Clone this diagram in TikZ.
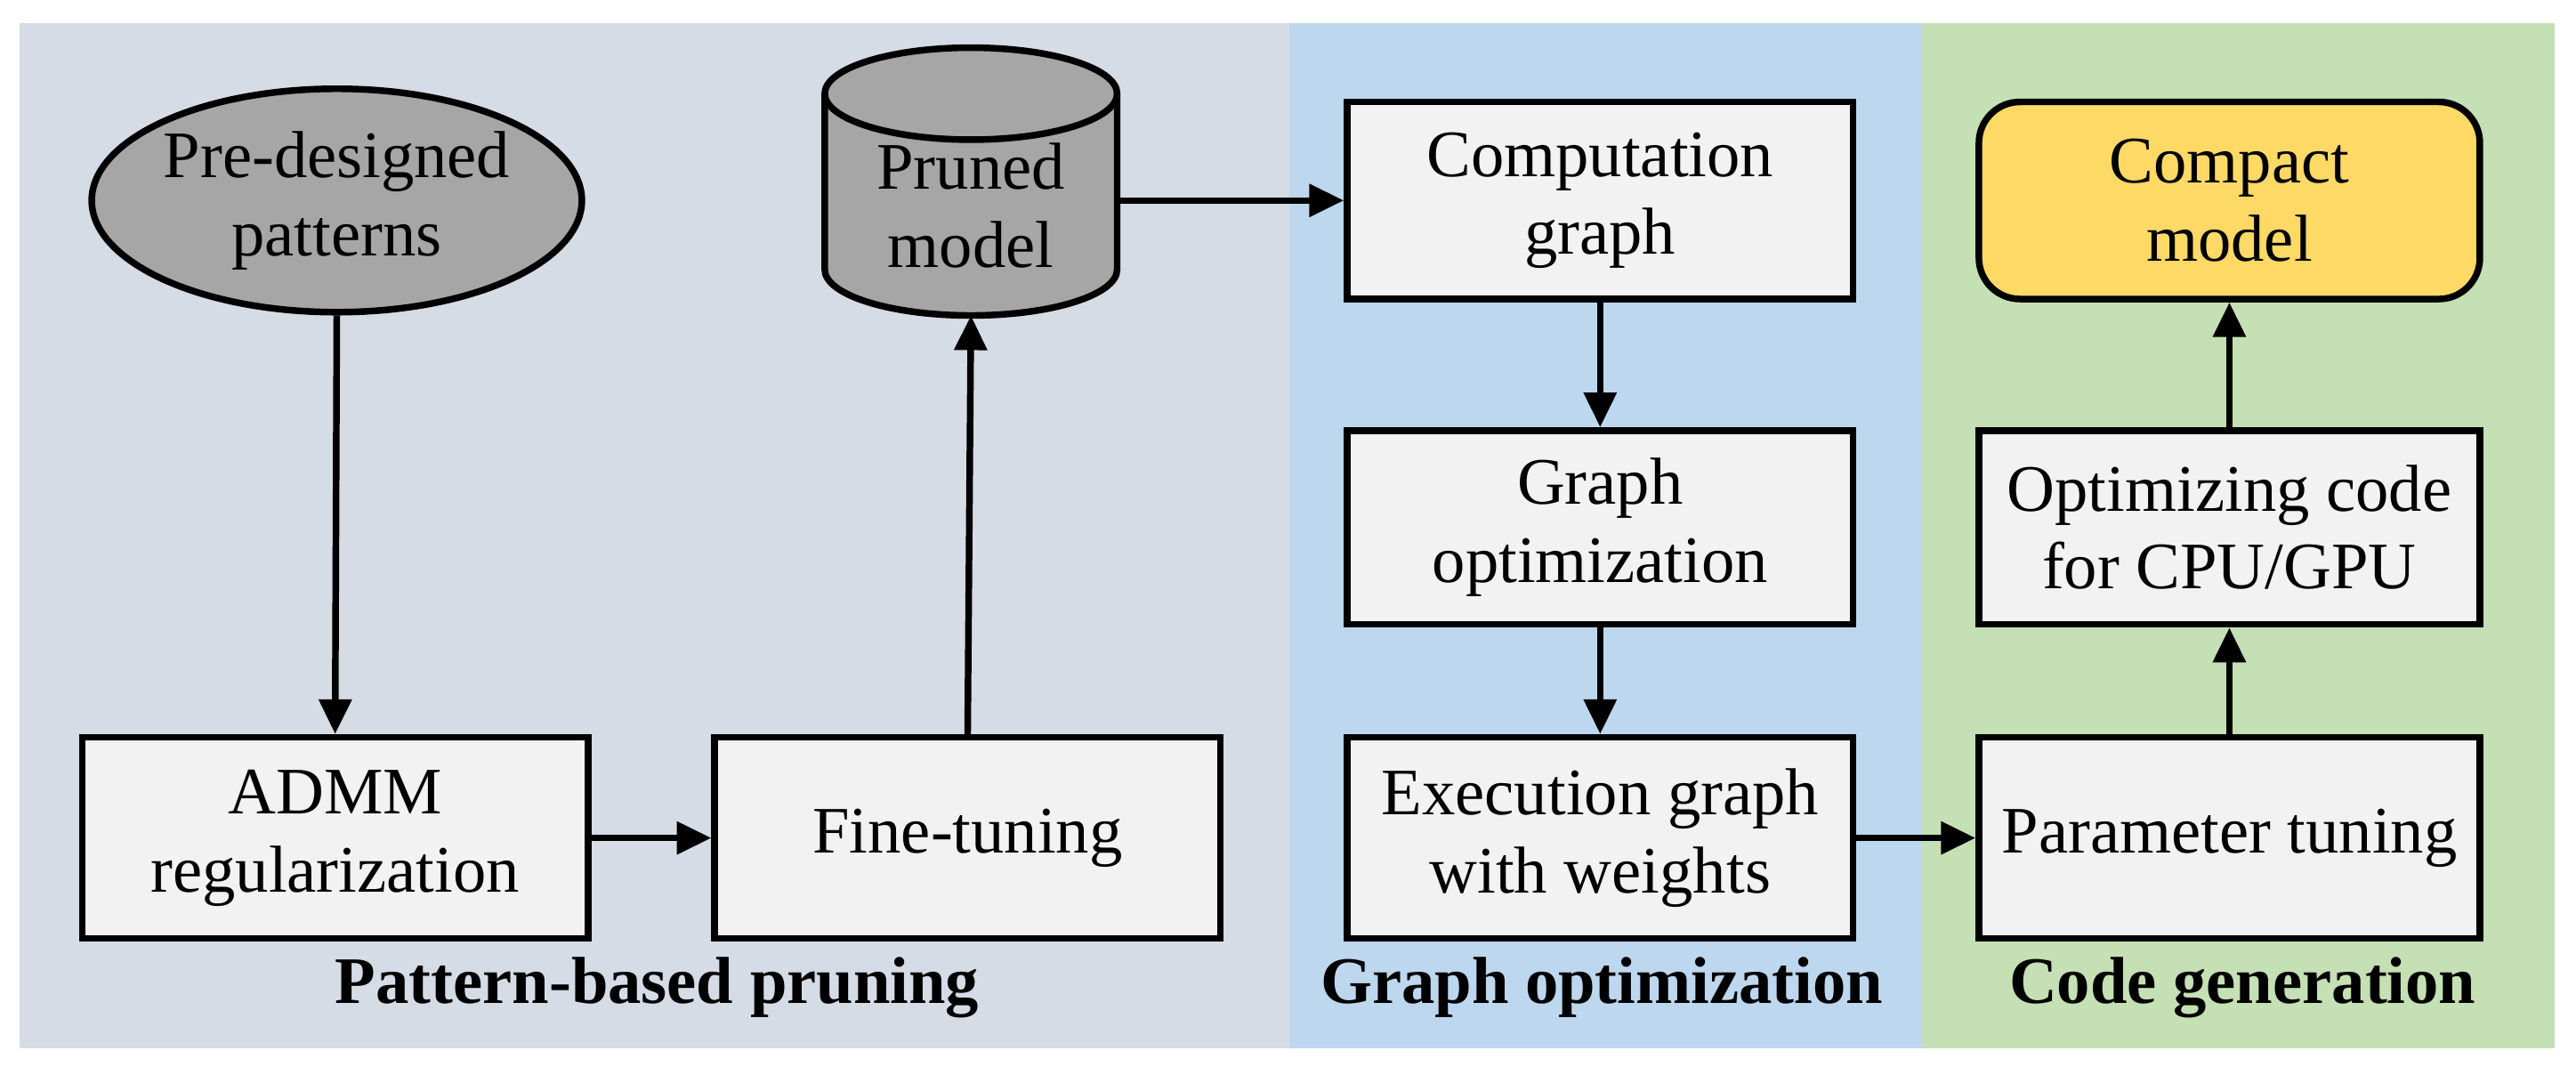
\documentclass[tikz,border=0pt]{standalone}
\usepackage{fontspec}
\setmainfont{Liberation Serif}
\usetikzlibrary{shapes.geometric,arrows.meta}
\definecolor{bgA}{HTML}{D6DCE5}
\definecolor{bgB}{HTML}{BDD7EE}
\definecolor{bgC}{HTML}{C5E0B4}
\definecolor{boxf}{HTML}{F2F2F2}
\definecolor{grayf}{HTML}{A6A6A6}
\definecolor{yel}{HTML}{FFD966}
\begin{document}
\begin{tikzpicture}[x=0.02cm,y=-0.02cm,
  every node/.style={font=\fontsize{23}{27}\selectfont, align=center, line width=2.3pt},
  box/.style={draw, fill=boxf, minimum width=6.16cm, minimum height=2.45cm, inner sep=2pt},
  lab/.style={font=\fontsize{23}{27}\selectfont\bfseries},
  arr/.style={line width=2.3pt, -{Triangle[length=12pt,width=11pt]}}]
\useasboundingbox (0,0) rectangle (1568,654);
\fill[bgA] (12,14) rectangle (785,638);
\fill[bgB] (785,14) rectangle (1170,638);
\fill[bgC] (1170,14) rectangle (1555,638);
\node[draw, ellipse, fill=grayf, minimum width=4.4cm, minimum height=2.72cm, inner sep=0pt] (pd) at (205,122) {Pre-designed\\patterns};
% cylinder
\draw[line width=2.3pt, fill=grayf] (502,57) -- (502,164) arc[start angle=180, end angle=360, x radius=89, y radius=-28] -- (680,57) arc[start angle=0, end angle=180, x radius=89, y radius=-28] -- cycle;
\draw[line width=2.3pt] (502,57) arc[start angle=180, end angle=360, x radius=89, y radius=-28];
\node (pm) at (591,125) {Pruned\\model};
\coordinate (pmb) at (591,192);
\coordinate (pme) at (680,122);
\node[box] (admm) at (204,510) {ADMM\\regularization};
\node[box] (ft) at (589,510) {Fine-tuning};
\node[box, minimum height=2.4cm] (cg) at (974,122) {Computation\\graph};
\node[box, minimum height=2.36cm] (go) at (974,321) {Graph\\optimization};
\node[box] (eg) at (974,510) {Execution graph\\with weights};
\node[box, rounded corners=0.5cm, fill=yel, minimum width=6.1cm, minimum height=2.4cm] (cm) at (1357,122) {Compact\\model};
\node[box, minimum width=6.1cm, minimum height=2.36cm] (oc) at (1357,321) {Optimizing code\\for CPU/GPU};
\node[box, minimum width=6.1cm] (pt) at (1357,510) {Parameter tuning};
\node[lab] (l1) at (400,601) {Pattern-based pruning};
\node[lab] (l2) at (975,601) {Graph optimization};
\node[lab] (l3) at (1365,601) {Code generation};
\draw[arr] (pd.south) -- (admm.north);
\draw[arr] (admm) -- (ft);
\draw[arr] (ft.north) -- (pmb);
\draw[arr] (pme) -- (cg.west);
\draw[arr] (cg) -- (go);
\draw[arr] (go) -- (eg);
\draw[arr] (eg) -- (pt);
\draw[arr] (pt) -- (oc);
\draw[arr] (oc) -- (cm);
\end{tikzpicture}
\end{document}
